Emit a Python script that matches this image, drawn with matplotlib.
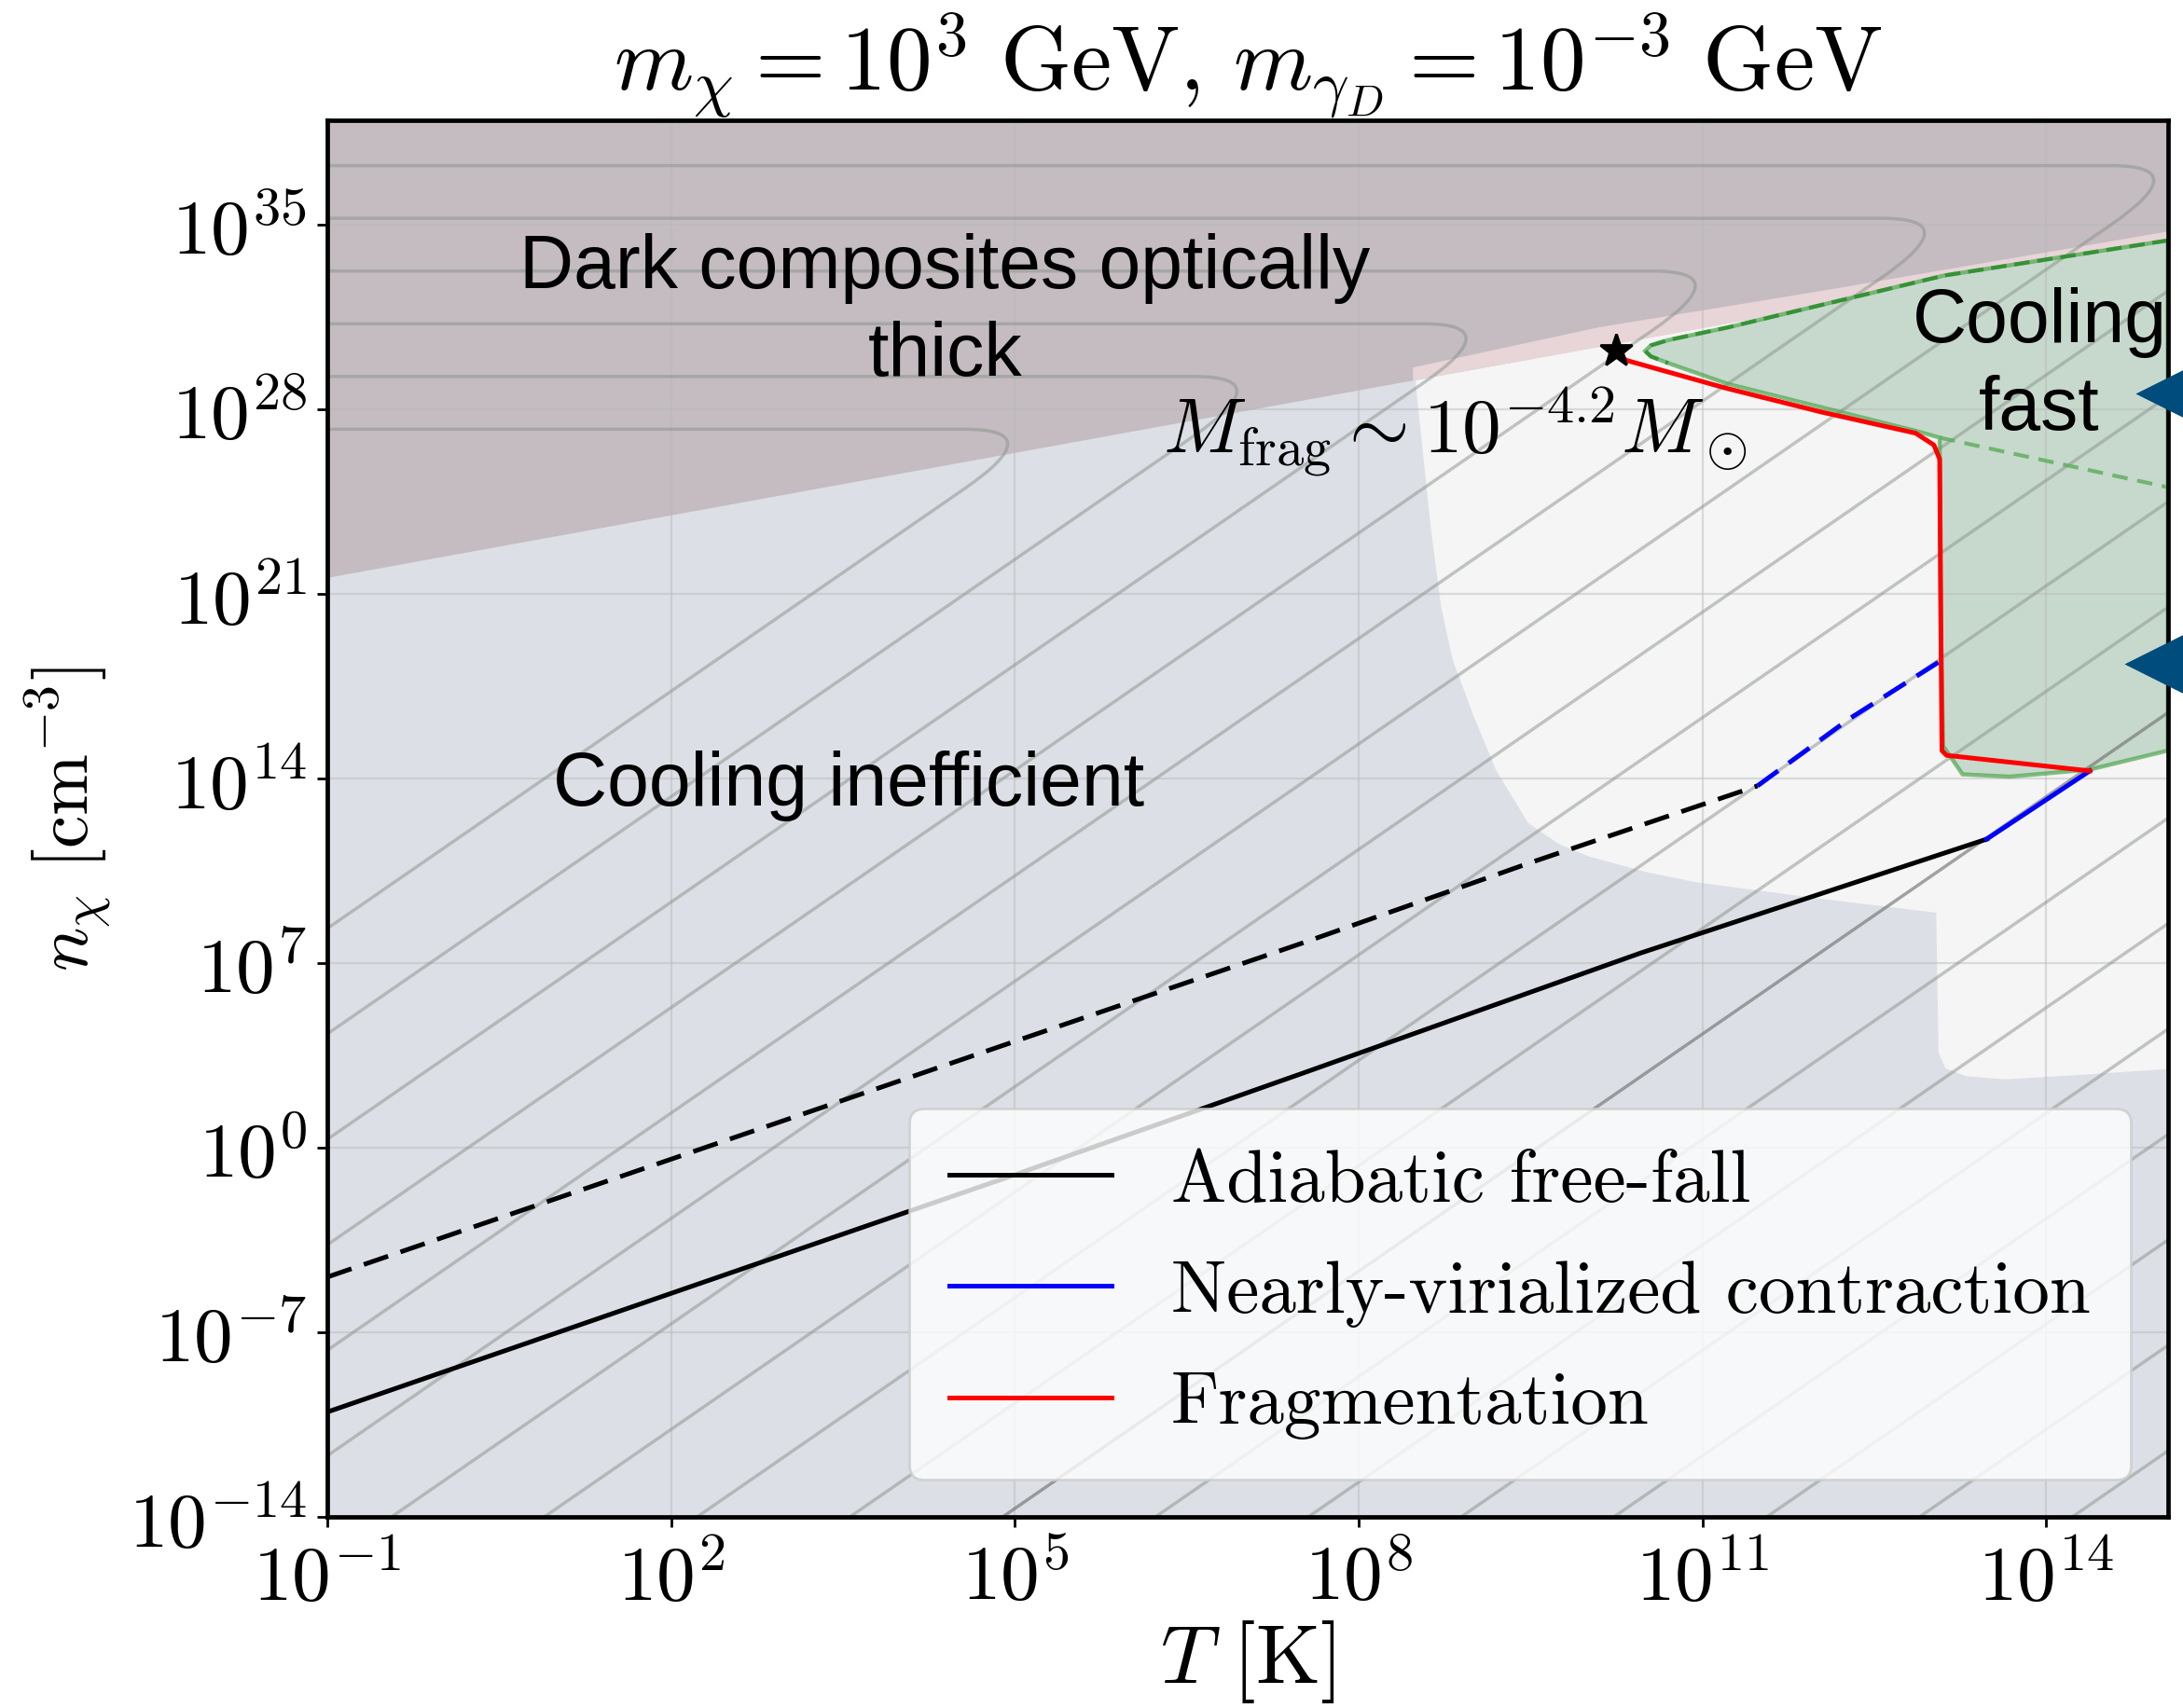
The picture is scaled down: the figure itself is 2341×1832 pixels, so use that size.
import numpy as np
import matplotlib.pyplot as plt
from matplotlib.path import Path
from matplotlib.patches import PathPatch
from matplotlib.ticker import FixedLocator, FuncFormatter, NullLocator

plt.rcParams['mathtext.fontset'] = 'cm'

# all values are log10(T [K]) and log10(n [cm^-3])
adiab_T = [-1, 2, 5, 7.53, 10.46, 13.48]
adiab_n = [-10.04, -5.54, -1.04, 2.84, 7.37, 11.69]
adiab2_T = [-1, 2, 5, 7.53, 9.5, 11.48]
adiab2_n = [-4.92, -0.45, 4.02, 7.78, 10.8, 13.71]
vir_T = [13.48, 14.38]
vir_n = [11.69, 14.28]
vir2_T = [11.48, 12.28, 13.07]
vir2_n = [13.71, 16.25, 18.43]
frag_T = [10.25, 10.33, 11.22, 12.04, 12.86, 13.02, 13.07, 13.08, 13.09, 13.13, 14.38]
frag_n = [30.21, 29.86, 28.78, 27.89, 27.09, 26.64, 26.11, 20.0, 15.05, 14.87, 14.28]
star_T, star_n = 10.25, 30.21

# optically thick boundary
thick_T = [-1, 15.06]
thick_n = [21.62, 34.31]
pink_T = [8.47, 10.1, 12.0, 15.06]
pink_lo = [29.1, 30.38, 31.88, 34.31]
pink_hi = [29.6, 31.13, 32.48, 34.76]

# region where cooling is not inefficient
white_T = [8.47, 8.50, 8.55, 8.63, 8.72, 8.82, 9.00, 9.20, 9.48, 9.75, 10.0, 10.5, 10.95,
           12.0, 13.04, 13.06, 13.12, 13.3, 13.64, 14.3, 15.06, 15.06]
white_n = [40, 28.9, 26.8, 23.5, 20.5, 18.5, 16.4, 14.3, 12.3, 11.5, 11.05, 10.45, 10.05,
           9.45, 8.9, 3.6, 3.0, 2.7, 2.58, 2.75, 2.97, 40]

# cooling fast region
cool_T = [10.50, 10.55, 10.70, 11.22, 12.04, 12.86, 13.07, 13.08, 13.10, 13.27, 13.68, 14.38,
          15.06, 15.06, 13.11, 11.22, 10.70, 10.55]
cool_n = [30.21, 30.0, 29.75, 28.96, 28.07, 27.18, 26.92, 20.0, 15.22, 14.15, 14.06, 14.33,
          15.05, 34.40, 33.07, 31.10, 30.62, 30.42]
cooltop_T = [15.06, 13.11, 11.22, 10.70, 10.55, 10.50, 10.55, 10.70]
cooltop_n = [34.40, 33.07, 31.10, 30.62, 30.42, 30.21, 30.0, 29.75]
coolin_T = [13.07, 15.06]
coolin_n = [26.92, 25.04]

# fragment mass contours: horizontal level (thick) and diagonal intercept n ~ T^3 (thin)
cont_h = [27.24, 29.24, 31.24, 33.24, 35.24, 37.24, 39.24, 41.24, 43.24, 45.24, 47.24,
          49.24, 51.24, 53.24, 55.24, 57.24, 59.24, 61.24]
cont_c = [11.3, 7.3, 3.3, -0.7, -4.7, -8.7, -12.7, -16.7, -20.7, -24.7, -28.7,
          -32.7, -36.7, -40.7, -44.7, -48.7, -52.7, -56.7]
dark_contour = 10

xticks = [-1, 2, 5, 8, 11, 14]
yticks = [-14, -7, 0, 7, 14, 21, 28, 35]


def p(a):
    return 10.0 ** np.asarray(a, dtype=float)


fig = plt.figure(figsize=(11.705, 9.165), dpi=200)
ax = fig.add_axes([0.1499, 0.1121, 0.8431, 0.8170])
ax.set_xscale('log')
ax.set_yscale('log')
ax.set_facecolor('#dce0e6')

ax.fill(p(white_T), p(white_n), color='#f5f5f5', lw=0, zorder=0.5)
ax.fill_between(p(thick_T), p(thick_n), 1e45, color='#c4bcc1', lw=0, zorder=0.6)
ax.fill_between(p(pink_T), p(pink_lo), p(pink_hi), color='#e7d5d7', lw=0, zorder=0.7)
ax.fill(p(cool_T), p(cool_n), facecolor='#c7d9cd', lw=0, zorder=0.8)
ax.fill(p(cool_T), p(cool_n), fill=False, edgecolor='#4ea64e', lw=1.6, alpha=0.7, zorder=3.4)

# contours
a = 0.75
for k, (h, c) in enumerate(zip(cont_h, cont_c)):
    ti = (h - c) / 3
    verts = [(-3, h), (ti - a, h), (ti, h), (ti - a, h - 3 * a), ((-17 - c) / 3, -17)]
    codes = [Path.MOVETO, Path.LINETO, Path.CURVE3, Path.CURVE3, Path.LINETO]
    verts = [(10.0 ** x, 10.0 ** y) for x, y in verts]
    if k == dark_contour:
        col, al = '#6a6a6a', 0.6
    else:
        col, al = '#8a928a', 0.5
    ax.add_patch(PathPatch(Path(verts, codes), fill=False, edgecolor=col, alpha=al,
                           lw=1.25, zorder=3))

ax.plot(p(cooltop_T), p(cooltop_n), color='#268a26', lw=1.5, alpha=0.8,
        dashes=(4, 2), zorder=3.5)
ax.plot(p(coolin_T), p(coolin_n), color='#5aac5a', lw=1.5, alpha=0.8,
        dashes=(4, 2.5), zorder=3.5)

ax.plot(p(adiab_T), p(adiab_n), color='black', lw=1.8, zorder=4, label='Adiabatic free-fall')
ax.plot(p(adiab2_T), p(adiab2_n), color='black', lw=1.8, dashes=(5.5, 2.8), zorder=4)
ax.plot(p(vir_T), p(vir_n), color='blue', lw=1.8, zorder=4, label='Nearly-virialized contraction')
ax.plot(p(vir2_T), p(vir2_n), color='blue', lw=1.8, dashes=(5.5, 2.8), zorder=4)
ax.plot(p(frag_T), p(frag_n), color='red', lw=1.8, zorder=4.5, label='Fragmentation')
ax.plot([10.0 ** star_T], [10.0 ** star_n], marker='*', color='black', ms=13, zorder=5)

ax.set_xlim(10.0 ** -1, 10.0 ** 15.06)
ax.set_ylim(10.0 ** -14, 10.0 ** 38.96)

fmt = FuncFormatter(lambda v, pos: r'$10^{%d}$' % round(np.log10(v)))
ax.xaxis.set_major_locator(FixedLocator(p(xticks)))
ax.yaxis.set_major_locator(FixedLocator(p(yticks)))
ax.xaxis.set_minor_locator(NullLocator())
ax.yaxis.set_minor_locator(NullLocator())
ax.xaxis.set_major_formatter(fmt)
ax.yaxis.set_major_formatter(fmt)
ax.tick_params(labelsize=30, length=4, width=1.0, direction='out', pad=4)
ax.tick_params(axis='x', pad=5)
ax.set_axisbelow(False)
ax.grid(True, color='#b8b8b8', lw=0.8, alpha=0.45)
for s in ax.spines.values():
    s.set_linewidth(1.7)
    s.set_zorder(6)

sans = 'Liberation Sans'
ax.text(p(4.39), p(31.70), 'Dark composites optically\nthick', ha='center', va='center',
        fontsize=29, family=sans, zorder=6, linespacing=1.3)
ax.text(p(3.55), p(13.75), 'Cooling inefficient', ha='center', va='center',
        fontsize=29, family=sans, zorder=6)
ax.text(p(13.94), p(29.65), 'Cooling\nfast', ha='center', va='center',
        fontsize=29, family=sans, zorder=6, clip_on=False, linespacing=1.3)
ax.text(p(6.29), p(26.39), r'$M_{\rm frag} \sim 10^{-4.2} M_\odot$', ha='left',
        va='baseline', fontsize=30, zorder=6)

ax.set_title(r'$m_\chi = 10^3\ \mathrm{GeV},\, m_{\gamma_D} = 10^{-3}\ \mathrm{GeV}$',
             fontsize=35, pad=8)
ax.set_xlabel(r'$T\ [\mathrm{K}]$', fontsize=32, labelpad=1)
ax.set_ylabel(r'$n_\chi\ [\mathrm{cm}^{-3}]$', fontsize=28.5, labelpad=6)

ax.legend(loc='lower right', prop={'family': 'cmr10', 'size': 28.5}, handlelength=2.2,
          handletextpad=0.8, labelspacing=0.6, borderpad=0.55, borderaxespad=0.5,
          framealpha=0.8)

# pointer triangles at right border
ax.plot([0.9987], [0.8046], marker='<', ms=21, color='#004c7d', transform=ax.transAxes,
        clip_on=False, zorder=10)
ax.plot([0.9935], [0.6108], marker='<', ms=22, color='#004c7d', transform=ax.transAxes,
        clip_on=False, zorder=10)

fig.savefig('out.png', dpi=200)
